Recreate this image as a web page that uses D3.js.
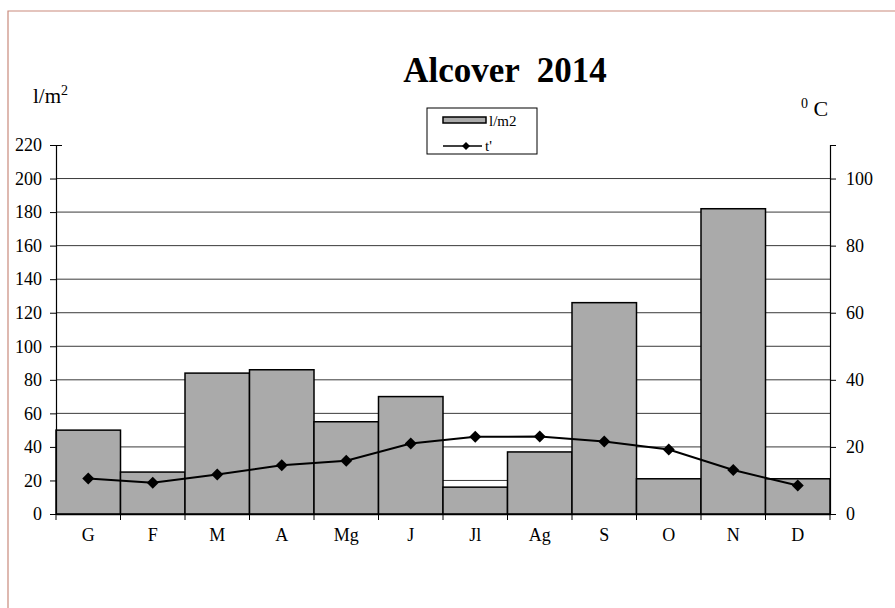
<!DOCTYPE html>
<html>
<head>
<meta charset="utf-8">
<script src="https://cdn.jsdelivr.net/npm/d3@7"></script>
<style>
  body { margin: 0; background: #fff; }
  text { font-family: "Liberation Serif", "Times New Roman", serif; fill: #000; }
</style>
</head>
<body>
<div class="chart"></div>
<script>
// months (catalan abbreviations)
const months = ["G", "F", "M", "A", "Mg", "J", "Jl", "Ag", "S", "O", "N", "D"];
// rainfall, l/m2
const rain = [50, 25, 84, 86, 55, 70, 16, 37, 126, 21, 182, 21];
// mean temperature, degrees C
const temp = [10.6, 9.3, 11.8, 14.5, 15.9, 21.0, 23.0, 23.1, 21.6, 19.2, 13.1, 8.5];
const leftTicks = [0, 20, 40, 60, 80, 100, 120, 140, 160, 180, 200, 220];
const rightTicks = [0, 20, 40, 60, 80, 100];

const W = 895, H = 608;
const margin = { top: 145, right: 65, bottom: 94, left: 56 };

const svg = d3.select(".chart").append("svg")
    .attr("width", W)
    .attr("height", H);

// page border (top and left only)
svg.append("path")
    .attr("d", "M8,608 L8,11 L895,11")
    .attr("fill", "none")
    .attr("stroke", "#c98a7c")
    .attr("stroke-width", 1.2);

const x = d3.scaleBand()
    .domain(months)
    .range([margin.left, W - margin.right])
    .padding(0);

const yL = d3.scaleLinear().domain([0, 220]).range([H - margin.bottom, margin.top]);
const yR = d3.scaleLinear().domain([0, 110]).range([H - margin.bottom, margin.top]);

// gridlines every 20 (left scale), below 220
svg.append("g")
    .selectAll("line")
    .data(leftTicks.filter(d => d > 0 && d < 220))
    .join("line")
    .attr("x1", margin.left)
    .attr("x2", W - margin.right)
    .attr("y1", d => yL(d))
    .attr("y2", d => yL(d))
    .attr("stroke", "#3a3a3a")
    .attr("stroke-width", 1);

// bars
svg.append("g")
    .selectAll("rect")
    .data(rain)
    .join("rect")
    .attr("x", (d, i) => x(months[i]))
    .attr("width", x.bandwidth())
    .attr("y", d => yL(d))
    .attr("height", d => yL(0) - yL(d))
    .attr("fill", "#aaaaaa")
    .attr("stroke", "#000")
    .attr("stroke-width", 1.5);

// left axis
const axL = svg.append("g")
    .attr("transform", "translate(" + margin.left + ",0)")
    .call(d3.axisLeft(yL).tickValues(leftTicks).tickSize(6).tickPadding(8));
axL.selectAll("text").style("font-size", "18px");
// top tick crosses the axis
axL.selectAll(".tick").filter(d => d === 220).select("line").attr("x2", 6).attr("x1", -6);

// right axis
const axR = svg.append("g")
    .attr("transform", "translate(" + (W - margin.right) + ",0)")
    .call(d3.axisRight(yR).tickValues(rightTicks).tickSize(6).tickPadding(10));
axR.selectAll("text").style("font-size", "18px");

// x axis
const axX = svg.append("g")
    .attr("transform", "translate(0," + yL(0) + ")")
    .call(d3.axisBottom(x).tickSize(0).tickPadding(14));
axX.selectAll("text").style("font-size", "18px");

// x tick marks on band boundaries
svg.append("g")
    .selectAll("line")
    .data(months.concat(["end"]))
    .join("line")
    .attr("x1", (d, i) => margin.left + i * x.bandwidth())
    .attr("x2", (d, i) => margin.left + i * x.bandwidth())
    .attr("y1", yL(0))
    .attr("y2", yL(0) + 6)
    .attr("stroke", "#000");

[axL, axR, axX].forEach(a => {
    a.selectAll("path.domain").attr("stroke", "#000").attr("stroke-width", 1.2);
    a.selectAll(".tick line").attr("stroke", "#000");
});
axX.select("path.domain").attr("stroke-width", 1.5);

// temperature line
const line = d3.line()
    .x((d, i) => x(months[i]) + x.bandwidth() / 2)
    .y(d => yR(d));

svg.append("path")
    .datum(temp)
    .attr("d", line)
    .attr("fill", "none")
    .attr("stroke", "#000")
    .attr("stroke-width", 2);

svg.append("g")
    .selectAll("path")
    .data(temp)
    .join("path")
    .attr("transform", (d, i) => "translate(" + (x(months[i]) + x.bandwidth() / 2) + "," + yR(d) + ")")
    .attr("d", "M0,-6L6,0L0,6L-6,0Z")
    .attr("fill", "#000");

// titles
svg.append("text")
    .attr("x", 505).attr("y", 82)
    .attr("text-anchor", "middle")
    .style("font-size", "35px")
    .style("font-weight", "bold")
    .attr("xml:space", "preserve")
    .text("Alcover  2014");

const unitL = svg.append("text")
    .attr("x", 33).attr("y", 103)
    .style("font-size", "21px");
unitL.append("tspan").text("l/m");
unitL.append("tspan").attr("dy", -8).style("font-size", "14px").text("2");

const unitR = svg.append("text")
    .attr("x", 801).attr("y", 116)
    .style("font-size", "22px");
unitR.append("tspan").attr("dy", -8).style("font-size", "14px").text("0");
unitR.append("tspan").attr("dy", 8).text(" C");

// legend
const lg = svg.append("g").attr("transform", "translate(427,108)");
lg.append("rect")
    .attr("width", 110).attr("height", 46)
    .attr("fill", "#fff")
    .attr("stroke", "#000")
    .attr("stroke-width", 1);
lg.append("rect")
    .attr("x", 16).attr("y", 9).attr("width", 43).attr("height", 6)
    .attr("fill", "#aaaaaa").attr("stroke", "#000").attr("stroke-width", 1.5);
lg.append("text").attr("x", 62).attr("y", 18).style("font-size", "15px").text("l/m2");
lg.append("line")
    .attr("x1", 16).attr("x2", 55).attr("y1", 38).attr("y2", 38)
    .attr("stroke", "#000").attr("stroke-width", 1.5);
lg.append("path")
    .attr("transform", "translate(39,38)")
    .attr("d", "M0,-4L4,0L0,4L-4,0Z")
    .attr("fill", "#000");
lg.append("text").attr("x", 58).attr("y", 43).style("font-size", "15px").text("t'");
</script>
</body>
</html>
